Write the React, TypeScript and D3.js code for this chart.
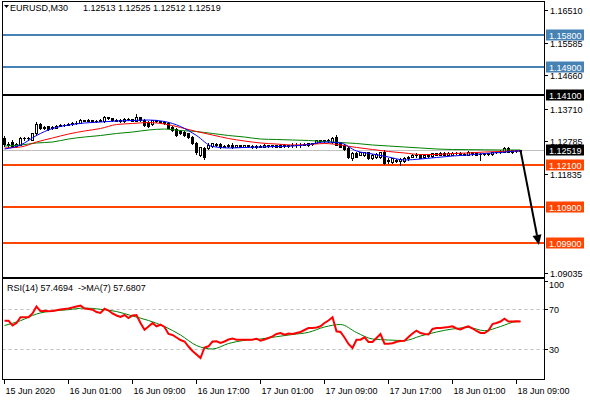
import React from "react";
import * as d3 from "d3";

// ---------- DATA ----------
const symbolTitle = "EURUSD,M30";
const lastOHLC = ["1.12513", "1.12525", "1.12512", "1.12519"];

const open = [
  1.12858, 1.12701, 1.12758, 1.12645, 1.12687, 1.12858, 1.12872, 1.12829, 1.13000, 1.13270,
  1.13156, 1.13199, 1.13142, 1.13170, 1.13227, 1.13241, 1.13255, 1.13284, 1.13298, 1.13312,
  1.13383, 1.13355, 1.13383, 1.13355, 1.13369, 1.13341, 1.13469, 1.13440, 1.13397, 1.13355,
  1.13341, 1.13426, 1.13412, 1.13355, 1.13469, 1.13397, 1.13326, 1.13270, 1.13383, 1.13355,
  1.13326, 1.13312, 1.13184, 1.13127, 1.13071, 1.13042, 1.13000, 1.12900, 1.12744, 1.12389,
  1.12588, 1.12588, 1.12645, 1.12701, 1.12701, 1.12630, 1.12645, 1.12687, 1.12630, 1.12659,
  1.12630, 1.12659, 1.12645, 1.12616, 1.12645, 1.12630, 1.12673, 1.12645, 1.12659, 1.12630,
  1.12673, 1.12645, 1.12659, 1.12687, 1.12659, 1.12687, 1.12673, 1.12716, 1.12730, 1.12801,
  1.12787, 1.12801, 1.12758, 1.12914, 1.12730, 1.12673, 1.12588, 1.12304, 1.12432, 1.12389,
  1.12389, 1.12460, 1.12304, 1.12332, 1.12332, 1.12488, 1.12219, 1.12190, 1.12247, 1.12219,
  1.12219, 1.12304, 1.12332, 1.12389, 1.12403, 1.12332, 1.12375, 1.12361, 1.12432, 1.12403,
  1.12446, 1.12403, 1.12389, 1.12446, 1.12446, 1.12417, 1.12389, 1.12474, 1.12432, 1.12417,
  1.12417, 1.12417, 1.12417, 1.12474, 1.12460, 1.12482, 1.12574, 1.12531, 1.12503, 1.12513,
];
const high = [
  1.12929, 1.12758, 1.12801, 1.12730, 1.12900, 1.12900, 1.12900, 1.13028, 1.13326, 1.13298,
  1.13213, 1.13213, 1.13213, 1.13241, 1.13270, 1.13284, 1.13312, 1.13326, 1.13341, 1.13412,
  1.13397, 1.13412, 1.13397, 1.13397, 1.13412, 1.13497, 1.13483, 1.13454, 1.13412, 1.13412,
  1.13454, 1.13454, 1.13426, 1.13554, 1.13483, 1.13412, 1.13355, 1.13397, 1.13397, 1.13369,
  1.13355, 1.13326, 1.13199, 1.13156, 1.13099, 1.13085, 1.13028, 1.12929, 1.12772, 1.12630,
  1.12616, 1.12716, 1.12744, 1.12730, 1.12730, 1.12673, 1.12701, 1.12716, 1.12687, 1.12687,
  1.12687, 1.12687, 1.12673, 1.12673, 1.12673, 1.12701, 1.12687, 1.12687, 1.12687, 1.12701,
  1.12701, 1.12687, 1.12716, 1.12716, 1.12716, 1.12730, 1.12744, 1.12744, 1.12829, 1.12829,
  1.12829, 1.12843, 1.12914, 1.12957, 1.12758, 1.12701, 1.12616, 1.12460, 1.12460, 1.12488,
  1.12488, 1.12474, 1.12417, 1.12446, 1.12488, 1.12517, 1.12290, 1.12304, 1.12275, 1.12304,
  1.12332, 1.12361, 1.12417, 1.12432, 1.12417, 1.12389, 1.12389, 1.12446, 1.12446, 1.12460,
  1.12460, 1.12460, 1.12460, 1.12460, 1.12460, 1.12432, 1.12503, 1.12488, 1.12446, 1.12432,
  1.12432, 1.12446, 1.12488, 1.12488, 1.12517, 1.12602, 1.12602, 1.12545, 1.12531, 1.12525,
];
const low = [
  1.12645, 1.12616, 1.12616, 1.12602, 1.12659, 1.12829, 1.12829, 1.12815, 1.12971, 1.13127,
  1.13127, 1.13099, 1.13127, 1.13156, 1.13199, 1.13227, 1.13241, 1.13255, 1.13270, 1.13298,
  1.13341, 1.13341, 1.13326, 1.13326, 1.13341, 1.13326, 1.13412, 1.13369, 1.13341, 1.13326,
  1.13326, 1.13383, 1.13341, 1.13341, 1.13369, 1.13213, 1.13184, 1.13241, 1.13326, 1.13312,
  1.13270, 1.13142, 1.13071, 1.12943, 1.12985, 1.12943, 1.12872, 1.12701, 1.12417, 1.12361,
  1.12261, 1.12559, 1.12630, 1.12645, 1.12588, 1.12602, 1.12616, 1.12588, 1.12602, 1.12602,
  1.12602, 1.12616, 1.12588, 1.12588, 1.12602, 1.12602, 1.12616, 1.12616, 1.12602, 1.12602,
  1.12616, 1.12616, 1.12630, 1.12630, 1.12630, 1.12659, 1.12645, 1.12673, 1.12716, 1.12758,
  1.12758, 1.12772, 1.12744, 1.12659, 1.12602, 1.12531, 1.12290, 1.12247, 1.12332, 1.12375,
  1.12361, 1.12275, 1.12261, 1.12304, 1.12304, 1.12133, 1.12162, 1.12162, 1.12176, 1.12105,
  1.12190, 1.12247, 1.12318, 1.12346, 1.12290, 1.12304, 1.12332, 1.12346, 1.12375, 1.12389,
  1.12375, 1.12389, 1.12375, 1.12417, 1.12403, 1.12375, 1.12375, 1.12403, 1.12375, 1.12247,
  1.12389, 1.12389, 1.12403, 1.12446, 1.12446, 1.12474, 1.12474, 1.12446, 1.12474, 1.12512,
];
const close = [
  1.12701, 1.12673, 1.12645, 1.12701, 1.12858, 1.12872, 1.12858, 1.13000, 1.13284, 1.13156,
  1.13184, 1.13127, 1.13184, 1.13227, 1.13241, 1.13255, 1.13284, 1.13298, 1.13312, 1.13383,
  1.13355, 1.13383, 1.13355, 1.13369, 1.13383, 1.13469, 1.13440, 1.13397, 1.13355, 1.13383,
  1.13426, 1.13412, 1.13369, 1.13469, 1.13397, 1.13241, 1.13199, 1.13383, 1.13355, 1.13326,
  1.13298, 1.13170, 1.13099, 1.12971, 1.13014, 1.12971, 1.12900, 1.12730, 1.12474, 1.12602,
  1.12332, 1.12687, 1.12716, 1.12673, 1.12616, 1.12645, 1.12673, 1.12616, 1.12659, 1.12630,
  1.12659, 1.12645, 1.12616, 1.12645, 1.12630, 1.12673, 1.12645, 1.12659, 1.12630, 1.12673,
  1.12645, 1.12659, 1.12687, 1.12659, 1.12687, 1.12701, 1.12716, 1.12701, 1.12801, 1.12787,
  1.12801, 1.12815, 1.12886, 1.12673, 1.12630, 1.12559, 1.12318, 1.12432, 1.12346, 1.12460,
  1.12460, 1.12304, 1.12389, 1.12417, 1.12460, 1.12162, 1.12233, 1.12290, 1.12219, 1.12275,
  1.12304, 1.12332, 1.12389, 1.12403, 1.12304, 1.12375, 1.12361, 1.12432, 1.12403, 1.12446,
  1.12403, 1.12432, 1.12446, 1.12451, 1.12417, 1.12389, 1.12474, 1.12432, 1.12403, 1.12422,
  1.12422, 1.12432, 1.12474, 1.12480, 1.12503, 1.12574, 1.12488, 1.12460, 1.12517, 1.12519,
];

// moving averages, read every 4 bars
const maBars = [0, 4, 8, 12, 16, 20, 24, 28, 32, 36, 40, 44, 48, 52, 56, 60, 64, 68, 72, 76, 80, 84, 88, 92, 96, 100, 104, 108, 112, 116, 120, 124, 128, 129];
const maFast = [
  1.12559, 1.12673, 1.12943, 1.13142, 1.13241, 1.13298, 1.13326, 1.13355, 1.13369, 1.13383,
  1.13341, 1.13199, 1.12943, 1.12630, 1.12588, 1.12602, 1.12616, 1.12630, 1.12645, 1.12687,
  1.12758, 1.12730, 1.12503, 1.12417, 1.12332, 1.12247, 1.12275, 1.12318, 1.12361, 1.12389,
  1.12432, 1.12460, 1.12503, 1.12508,
];
const maMid = [
  1.12588, 1.12616, 1.12758, 1.12872, 1.12985, 1.13071, 1.13142, 1.13255, 1.13284, 1.13312,
  1.13270, 1.13170, 1.13056, 1.12957, 1.12858, 1.12787, 1.12730, 1.12701, 1.12673, 1.12687,
  1.12716, 1.12673, 1.12602, 1.12545, 1.12488, 1.12446, 1.12403, 1.12403, 1.12432, 1.12446,
  1.12474, 1.12488, 1.12503, 1.12503,
];
const maSlow = [
  1.12645, 1.12673, 1.12730, 1.12758, 1.12843, 1.12900, 1.12943, 1.13000, 1.13042, 1.13099,
  1.13127, 1.13085, 1.13056, 1.13000, 1.12943, 1.12900, 1.12843, 1.12829, 1.12815, 1.12801,
  1.12772, 1.12744, 1.12716, 1.12673, 1.12645, 1.12616, 1.12588, 1.12559, 1.12545, 1.12540,
  1.12536, 1.12531, 1.12531, 1.12531,
];

// RSI(14) per bar
const rsi = [
  58.3, 58.3, 53.5, 56, 61.7, 61.7, 61.7, 65.5, 72.5, 67.7,
  68.3, 67.7, 67.9, 68.7, 69.5, 70, 70.5, 71.5, 72.5, 73.5,
  70.5, 70, 69.3, 67, 66, 70.3, 68.5, 65.5, 63.5, 62,
  64, 61, 63.5, 64, 56, 49.3, 52.5, 56, 52.7, 54.3,
  52, 45, 44, 41.5, 39, 37.5, 32.5, 28, 24.5, 21,
  31.5, 32.7, 37.5, 37.7, 36, 37.5, 39.5, 40.5, 39.3, 39.3,
  39.3, 39.3, 39.3, 40.3, 38.3, 39.5, 41, 42.7, 45, 46,
  44.3, 45.5, 45, 46, 47, 49, 51, 51, 51.5, 52.7,
  56, 58.5, 61.7, 47.7, 47, 41.5, 35, 31, 39.3, 39.3,
  41.7, 37, 37, 41, 45, 35.3, 35.3, 35.8, 37.3, 38,
  38.3, 42, 45.5, 48.3, 46, 45, 44.5, 50, 51, 51,
  51.5, 52, 52.7, 50.5, 49.5, 51.5, 52.7, 50.5, 48, 46,
  46, 48.5, 55, 56, 57.5, 60.3, 57.5, 57.5, 57.7, 57.4694,
];
// MA(7) of RSI, read every 4 bars
const rsiMa = [
  53.5, 58.3, 65, 68, 69.3, 71, 69.7, 67.5, 63, 58.5,
  52.5, 44, 33.5, 30, 35.5, 38.7, 40, 42.3, 44.5, 46.7,
  52, 54.5, 46.5, 40, 39, 38.5, 43, 47, 50, 51.5,
  48.3, 52.5, 57.5, 57.6807,
];
const rsiLabel = "RSI(14) 57.4694  ->MA(7) 57.6807";
const rsiLevels = [70, 30];
const rsiTicks = [100, 70, 30];

const priceTicks = [1.16510, 1.15585, 1.14660, 1.13710, 1.12785, 1.11835, 1.09035];
const blueLevels = [1.15800, 1.14900];
const blackLevels = [1.14100];
const orangeLevels = [1.12100, 1.10900, 1.09900];
const currentPrice = 1.12519;
const arrowFrom = { bar: 129, price: 1.12519 };
const arrowTo = { bar: 133.6, price: 1.09830 };

const timeTickBars = [0, 16, 32, 48, 64, 80, 96, 112, 128];
const timeTickLabels = [
  "15 Jun 2020", "16 Jun 01:00", "16 Jun 09:00", "16 Jun 17:00", "17 Jun 01:00",
  "17 Jun 09:00", "17 Jun 17:00", "18 Jun 01:00", "18 Jun 09:00",
];

// ---------- CHART ----------
const FONT = "'Liberation Sans', Arial, sans-serif";
const BLUE = "#4682B4";
const ORANGE = "#FF4500";

export default function App() {
  const W = 590, H = 400;
  const L = 2.5, R = 544.5, T = 1.5, B = 379.5;
  const SEP = 278;

  const x = d3.scaleLinear().domain([0, 129]).range([4.5, 520.5]);
  const y = d3.scaleLinear().domain([1.09035, 1.16510]).range([273, 10]);
  const ry = d3.scaleLinear().domain([0, 100]).range([379, 279]);

  const maLine = d3
    .line<number>()
    .x((_, k) => x(maBars[k]))
    .y((v) => y(v))
    .curve(d3.curveMonotoneX);
  const rsiLine = d3
    .line<number>()
    .x((_, i) => x(i))
    .y((v) => ry(v));
  const rsiMaLine = d3
    .line<number>()
    .x((_, k) => x(maBars[k]))
    .y((v) => ry(v))
    .curve(d3.curveMonotoneX);

  const levelY = (p: number) => Math.round(y(p));

  const candles = open.map((o, i) => {
    const c = close[i];
    const cx = x(i);
    const top = Math.round(y(Math.max(o, c)));
    const bot = Math.round(y(Math.min(o, c)));
    const hy = Math.round(y(high[i]));
    const ly = Math.round(y(low[i]));
    let body;
    if (top === bot) {
      body = <line x1={cx - 1.5} x2={cx + 1.5} y1={top + 0.5} y2={top + 0.5} stroke="#000" />;
    } else if (c > o) {
      body = (
        <rect x={cx - 1} y={top + 0.5} width={2} height={bot - top} fill="#fff" stroke="#000" strokeWidth={1} />
      );
    } else {
      body = <rect x={cx - 1.5} y={top} width={3} height={bot - top + 1} fill="#000" />;
    }
    return (
      <g key={i}>
        <line x1={cx} x2={cx} y1={hy} y2={ly + 1} stroke="#000" strokeWidth={1} />
        {body}
      </g>
    );
  });

  const labelBox = (p: number, bg: string, key: string) => {
    const yy = levelY(p);
    return (
      <g key={key}>
        <rect x={546} y={yy - 5.5} width={38} height={11} fill={bg} />
        <text x={549} y={yy + 3.5} fontSize={9} fontFamily={FONT} fill="#fff">
          {p.toFixed(5)}
        </text>
      </g>
    );
  };

  const ax1 = x(arrowFrom.bar), ay1 = y(arrowFrom.price);
  const ax2 = x(arrowTo.bar), ay2 = y(arrowTo.price);
  const ang = Math.atan2(ay2 - ay1, ax2 - ax1);
  const headLen = 10, headW = 4.5;
  const bx = ax2 - headLen * Math.cos(ang), by = ay2 - headLen * Math.sin(ang);
  const px = -Math.sin(ang) * headW, py = Math.cos(ang) * headW;

  return (
    <svg
      width={W}
      height={H}
      style={{ position: "fixed", left: 0, top: 0, background: "#fff" }}
      shapeRendering="auto"
    >
      <defs>
        <clipPath id="mainClip">
          <rect x={3} y={2} width={541} height={275} />
        </clipPath>
        <clipPath id="rsiClip">
          <rect x={3} y={279} width={541} height={100} />
        </clipPath>
      </defs>
      <rect x={0} y={0} width={W} height={H} fill="#fff" />

      {/* main panel */}
      <g clipPath="url(#mainClip)">
        <line x1={L} x2={R} y1={levelY(currentPrice) + 0.5} y2={levelY(currentPrice) + 0.5} stroke="#C0C0C0" />
        {blueLevels.map((p) => (
          <line key={p} x1={L} x2={R} y1={levelY(p)} y2={levelY(p)} stroke={BLUE} strokeWidth={2} />
        ))}
        {blackLevels.map((p) => (
          <line key={p} x1={L} x2={R} y1={levelY(p)} y2={levelY(p)} stroke="#000" strokeWidth={2} />
        ))}
        {orangeLevels.map((p) => (
          <line key={p} x1={L} x2={R} y1={levelY(p)} y2={levelY(p)} stroke={ORANGE} strokeWidth={2} />
        ))}
        {candles}
        <path d={maLine(maSlow) || ""} fill="none" stroke="#008000" strokeWidth={1} />
        <path d={maLine(maMid) || ""} fill="none" stroke="#FF0000" strokeWidth={1} />
        <path d={maLine(maFast) || ""} fill="none" stroke="#0000FF" strokeWidth={1} />
        <line x1={ax1} y1={ay1} x2={bx} y2={by} stroke="#000" strokeWidth={2} />
        <polygon points={`${ax2},${ay2} ${bx + px},${by + py} ${bx - px},${by - py}`} fill="#000" />
      </g>

      {/* header */}
      <polygon points="4,5 9,5 6.5,8" fill="#000" />
      <text x={10} y={11} fontSize={9} fontFamily={FONT} fill="#000">
        {symbolTitle}
      </text>
      <text x={83} y={11} fontSize={9} fontFamily={FONT} fill="#000" style={{ whiteSpace: "pre" }}>
        {lastOHLC.join(" ")}
      </text>

      {/* RSI panel */}
      <g clipPath="url(#rsiClip)">
        {rsiLevels.map((v) => (
          <line key={v} x1={L} x2={R} y1={ry(v) + 0.5} y2={ry(v) + 0.5} stroke="#C0C0C0" strokeDasharray="3,3" />
        ))}
        <path d={rsiMaLine(rsiMa) || ""} fill="none" stroke="#008000" strokeWidth={1} />
        <path d={rsiLine(rsi) || ""} fill="none" stroke="#FF0000" strokeWidth={2} />
      </g>
      <text x={7} y={291} fontSize={9} fontFamily={FONT} fill="#000" style={{ whiteSpace: "pre" }}>
        {rsiLabel}
      </text>

      {/* frames */}
      <rect x={L} y={T} width={R - L} height={B - T} fill="none" stroke="#000" strokeWidth={1} />
      <line x1={L} x2={R} y1={SEP} y2={SEP} stroke="#000" strokeWidth={2} />

      {/* price axis */}
      {priceTicks.map((p) => {
        const yy = levelY(p);
        return (
          <g key={p}>
            <line x1={544} x2={548} y1={yy + 0.5} y2={yy + 0.5} stroke="#000" />
            <text x={550} y={yy + 3.5} fontSize={9} fontFamily={FONT} fill="#000">
              {p.toFixed(5)}
            </text>
          </g>
        );
      })}
      {blueLevels.map((p) => labelBox(p, BLUE, "b" + p))}
      {blackLevels.map((p) => labelBox(p, "#000", "k" + p))}
      {orangeLevels.map((p) => labelBox(p, ORANGE, "o" + p))}
      {labelBox(currentPrice, "#000", "cur")}

      {/* RSI axis */}
      {rsiTicks.map((v) => {
        const yy = Math.max(ry(v), 284);
        return (
          <g key={v}>
            <line x1={544} x2={548} y1={Math.round(ry(v)) + 0.5 + (v === 100 ? 2 : 0)} y2={Math.round(ry(v)) + 0.5 + (v === 100 ? 2 : 0)} stroke="#000" />
            <text x={549} y={yy + 3.5} fontSize={9} fontFamily={FONT} fill="#000">
              {v}
            </text>
          </g>
        );
      })}

      {/* time axis */}
      {timeTickBars.map((b, k) => {
        const xx = Math.round(x(b)) - 0.5;
        return (
          <g key={b}>
            <line x1={xx} x2={xx} y1={380} y2={384} stroke="#000" />
            <text x={xx + 1} y={394} fontSize={9} fontFamily={FONT} fill="#000">
              {timeTickLabels[k]}
            </text>
          </g>
        );
      })}
    </svg>
  );
}
